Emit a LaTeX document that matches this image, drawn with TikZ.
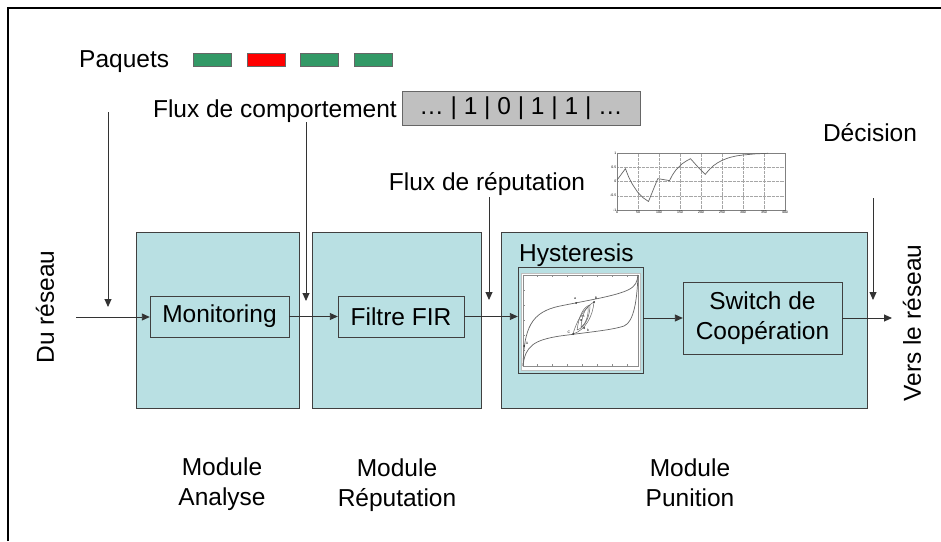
\documentclass[tikz,border=0pt]{standalone}
\usepackage{fontspec}
\setmainfont{Liberation Sans}
\usetikzlibrary{arrows.meta,positioning}
\definecolor{modcyan}{RGB}{185,224,227}
\definecolor{pktgreen}{RGB}{51,153,102}
\definecolor{pktred}{RGB}{255,0,0}
\definecolor{bitgray}{RGB}{192,192,192}
\newcommand{\txtsize}{\fontsize{24.5}{30}\selectfont}
\newcommand{\ticksize}{\fontsize{3.5}{4}\selectfont}
\tikzset{
    common/.style={draw=black!75, rectangle, inner sep=0pt},
    module/.style={common, fill=modcyan, minimum height=176pt},
    block/.style={common, fill=modcyan, minimum height=41pt},
    packet/.style={common, draw=black!60, minimum width=38pt, minimum height=13pt},
    txt/.style={inner sep=0pt},
    caption/.style={txt, align=center},
    flow/.style={draw=black!80, line width=0.9pt, -{Triangle[length=8pt,width=7pt]}},
    grid line/.style={gray!70, densely dotted, line width=0.3pt},
    curve/.style={black!60, line width=0.7pt},
    tick label/.style={font=\ticksize, inner sep=0.6pt},
    dot/.style={fill=black!80}
}
\begin{document}
\begin{tikzpicture}[x=1pt, y=-1pt, font=\txtsize]
    \useasboundingbox (0,0) rectangle (941,541);
    \draw[line width=2pt] (8,541) -- (8,8) -- (941,8);

    \node[txt, anchor=base west] (paquets) at (79,67) {Paquets};
    \foreach \c [count=\i] in {pktgreen,pktred,pktgreen,pktgreen}
        \node[packet, fill=\c] (p\i) at ({212+53.7*(\i-1)},60) {};

    \node[common, draw=black!60, fill=bitgray, minimum width=238pt, minimum height=34pt] (bits) at (521,108) {… | 1 | 0 | 1 | 1 | …};
    \node[txt, anchor=base east] (comportement) at (397,117) {Flux de comportement};
    \node[txt, anchor=base] (fluxrep) at (487,190) {Flux de réputation};
    \node[txt, anchor=base] (decision) at (870,141) {Décision};
    \node[txt, rotate=90] (dureseau) at (45,307) {Du réseau};
    \node[txt, rotate=90] (versreseau) at (912,323) {Vers le réseau};

    \node[module, minimum width=163pt] (analyse) at (217.5,320) {};
    \node[module, minimum width=169pt] (reputation) at (396.5,320) {};
    \node[module, minimum width=366pt] (punition) at (684,320) {};

    \node[block, minimum width=139pt] (monitoring) at (219.5,316.5) {Monitoring};
    \node[block, minimum width=126pt] (filtre) at (401,316.5) {Filtre FIR};
    \node[block, minimum width=159pt, minimum height=72pt, align=center] (switch) at (762.5,318) {Switch de\\Coopération};
    \node[common, fill=modcyan, minimum width=125pt, minimum height=106pt] (hyst) at (580.5,320) {};
    \node[txt, anchor=base west] (hysttitle) at (519,261) {Hysteresis};

    \node[caption] (labanalyse) at (222,484) {Module\\Analyse};
    \node[caption] (labreputation) at (397,485) {Module\\Réputation};
    \node[caption] (labpunition) at (690,483) {Module\\Punition};

    % hysteresis plot
    \draw[black!25, fill=white] (521,273) rectangle (640,370);
    \draw[black!45, line width=0.4pt] (523,275) rectangle (638,366);
    \foreach \t in {537,552,567,582,597,612,627} {
        \draw[black!45, line width=0.3pt] (\t,366) -- (\t,364);
        \draw[black!45, line width=0.3pt] (\t,275) -- (\t,277);
    }
    \foreach \v in {290,305,320,335,350} \draw[black!45, line width=0.3pt] (523,\v) -- (525,\v);
    \draw[curve] (523,366) .. controls (524,328) and (531,312) .. (560,306)
        .. controls (590,300) and (615,296) .. (628,290) .. controls (636,286) and (637,282) .. (638,275);
    \draw[curve] (523,366) .. controls (525,346) and (534,340) .. (560,336)
        .. controls (590,332) and (612,330) .. (624,326) .. controls (634,322) and (637,300) .. (638,275);
    \draw[curve, line width=0.5pt] (573,334) .. controls (578,316) and (588,305) .. (594,302)
        .. controls (593,315) and (586,330) .. (573,334);
    \draw[curve, line width=0.5pt] (577,330) .. controls (579,316) and (583,307) .. (590,305)
        .. controls (590,315) and (586,327) .. (577,330);
    \draw[curve, line width=0.5pt] (581,327) .. controls (582,316) and (585,309) .. (588,307)
        .. controls (589,316) and (585,325) .. (581,327);
    \foreach \x/\y in {524/346, 576/303, 594/302, 573/334, 584/328, 581/320}
        \fill[dot] (\x,\y) circle (1pt);
    \foreach \x/\y/\l in {527/343/A, 575/299/a, 596/298/B, 569/332/C, 588/330/b, 583/317/m}
        \node[tick label] at (\x,\y) {\l};

    % reputation plot
    \begin{scope}[xshift=617pt, yshift=-181.5pt, x=0.42pt, y=28.5pt]
        \fill[white] (0,-1) rectangle (400,1);
        \foreach \t in {50,100,...,350} \draw[grid line] (\t,-1) -- (\t,1);
        \foreach \v in {-0.5,0,0.5} \draw[grid line] (0,\v) -- (400,\v);
        \draw[black!50, line width=0.4pt] (0,-1) rectangle (400,1);
        \foreach \t in {0,50,...,400} \node[tick label, below] at (\t,-1) {\t};
        \foreach \v in {-1,-0.5,0,0.5,1} \node[tick label, left] at (0,\v) {\v};
        \draw[curve] plot coordinates {(0,0.05) (20,0.45) (28,0.15) (36,-0.08) (43,-0.24) (50,-0.39)
            (57,-0.49) (63,-0.58) (69,-0.64) (75,-0.7) (97,0.1) (110,0.07) (125,0.03) (132,0.23)
            (140,0.4) (148,0.52) (155,0.62) (165,0.72) (175,0.8) (192,0.52) (210,0.25) (220,0.42)
            (230,0.56) (240,0.66) (250,0.74) (260,0.8) (270,0.85) (285,0.9) (300,0.93) (330,0.97) (360,0.99)};
    \end{scope}

    \coordinate (in) at (76,317);
    \coordinate (paqtop) at (108,112);
    \coordinate (paqend) at (108,307);
    \coordinate (comptop) at (306,122);
    \coordinate (compend) at (306,301);
    \coordinate (reptop) at (489,197);
    \coordinate (repend) at (489,300);
    \coordinate (dectop) at (873,198);
    \coordinate (decend) at (873,300);
    \coordinate (out) at (892,318);

    \draw[flow] (in) -- (in -| monitoring.west);
    \draw[flow] (paqtop) -- (paqend);
    \draw[flow] (comptop) -- (compend);
    \draw[flow] (reptop) -- (repend);
    \draw[flow] (dectop) -- (decend);
    \draw[flow] (monitoring.east) -- (filtre.west);
    \draw[flow] (filtre.east) -- (filtre.east -| hyst.west);
    \draw[flow] (hyst.east |- switch.west) -- (switch.west);
    \draw[flow] (switch.east) -- (out);
\end{tikzpicture}
\end{document}
